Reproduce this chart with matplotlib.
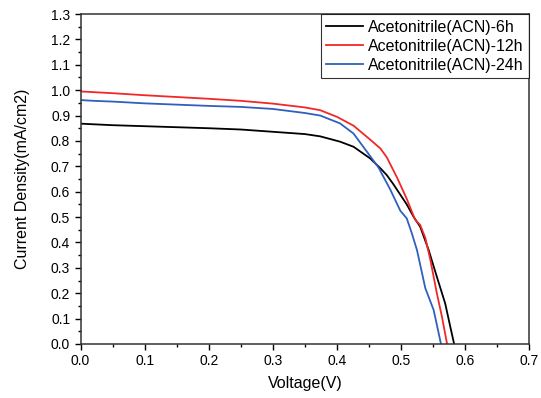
import matplotlib
matplotlib.use("Agg")
import matplotlib.pyplot as plt
from matplotlib.ticker import MultipleLocator

plt.rcParams['font.family'] = ['Liberation Sans', 'DejaVu Sans']

# J-V curves
v_6h = [0, 0.05, 0.1, 0.15, 0.2, 0.25, 0.3, 0.35, 0.374, 0.405, 0.426, 0.452, 0.468,
        0.478, 0.488, 0.509, 0.52, 0.53, 0.543, 0.556, 0.569, 0.577, 0.583]
j_6h = [0.868, 0.862, 0.858, 0.854, 0.850, 0.845, 0.836, 0.827, 0.818, 0.797, 0.777, 0.731, 0.692,
        0.665, 0.630, 0.550, 0.500, 0.462, 0.372, 0.265, 0.160, 0.068, 0.0]

v_12h = [0, 0.05, 0.1, 0.15, 0.2, 0.25, 0.3, 0.35, 0.374, 0.4, 0.426, 0.452, 0.468,
         0.478, 0.494, 0.509, 0.522, 0.53, 0.538, 0.546, 0.556, 0.564, 0.572]
j_12h = [0.995, 0.988, 0.980, 0.973, 0.966, 0.958, 0.947, 0.932, 0.921, 0.895, 0.860, 0.805, 0.770,
         0.735, 0.655, 0.572, 0.490, 0.469, 0.418, 0.330, 0.200, 0.107, 0.0]

v_24h = [0, 0.02, 0.05, 0.1, 0.15, 0.2, 0.25, 0.3, 0.35, 0.374, 0.405, 0.426, 0.447, 0.465,
         0.483, 0.499, 0.509, 0.517, 0.525, 0.538, 0.551, 0.5625]
j_24h = [0.961, 0.958, 0.955, 0.948, 0.943, 0.938, 0.934, 0.926, 0.910, 0.900, 0.869, 0.829, 0.757, 0.695,
         0.610, 0.525, 0.495, 0.436, 0.370, 0.220, 0.134, 0.0]

labels = ['Acetonitrile(ACN)-6h', 'Acetonitrile(ACN)-12h', 'Acetonitrile(ACN)-24h']

fig = plt.figure(figsize=(5.41, 3.98), dpi=100)
ax = fig.add_axes([0.149, 0.1357, 0.829, 0.8291])

ax.plot(v_6h, j_6h, color='black', lw=1.3, label=labels[0])
ax.plot(v_12h, j_12h, color='#f02828', lw=1.3, label=labels[1])
ax.plot(v_24h, j_24h, color='#2f5fbf', lw=1.3, label=labels[2])

ax.set_xlim(0, 0.7)
ax.set_ylim(0, 1.3)
ax.xaxis.set_major_locator(MultipleLocator(0.1))
ax.xaxis.set_minor_locator(MultipleLocator(0.05))
ax.yaxis.set_major_locator(MultipleLocator(0.1))
ax.yaxis.set_minor_locator(MultipleLocator(0.05))
ax.tick_params(which='major', direction='out', length=4, width=1, labelsize=10)
ax.tick_params(which='minor', direction='out', length=2.5, width=1)
for s in ax.spines.values():
    s.set_color('#333333')
    s.set_linewidth(1.1)

ax.set_xlabel('Voltage(V)', fontsize=11.5, labelpad=5.5)
ax.set_ylabel('Current Density(mA/cm2)', fontsize=11.5, labelpad=15)

leg = ax.legend(loc='upper right', fontsize=11.5, frameon=True, fancybox=False,
                borderaxespad=0, handlelength=2.3, handletextpad=0.3,
                labelspacing=0.25, borderpad=0.35)
leg.get_frame().set_edgecolor('black')
leg.get_frame().set_linewidth(0.8)

fig.savefig('out.png', dpi=100)
